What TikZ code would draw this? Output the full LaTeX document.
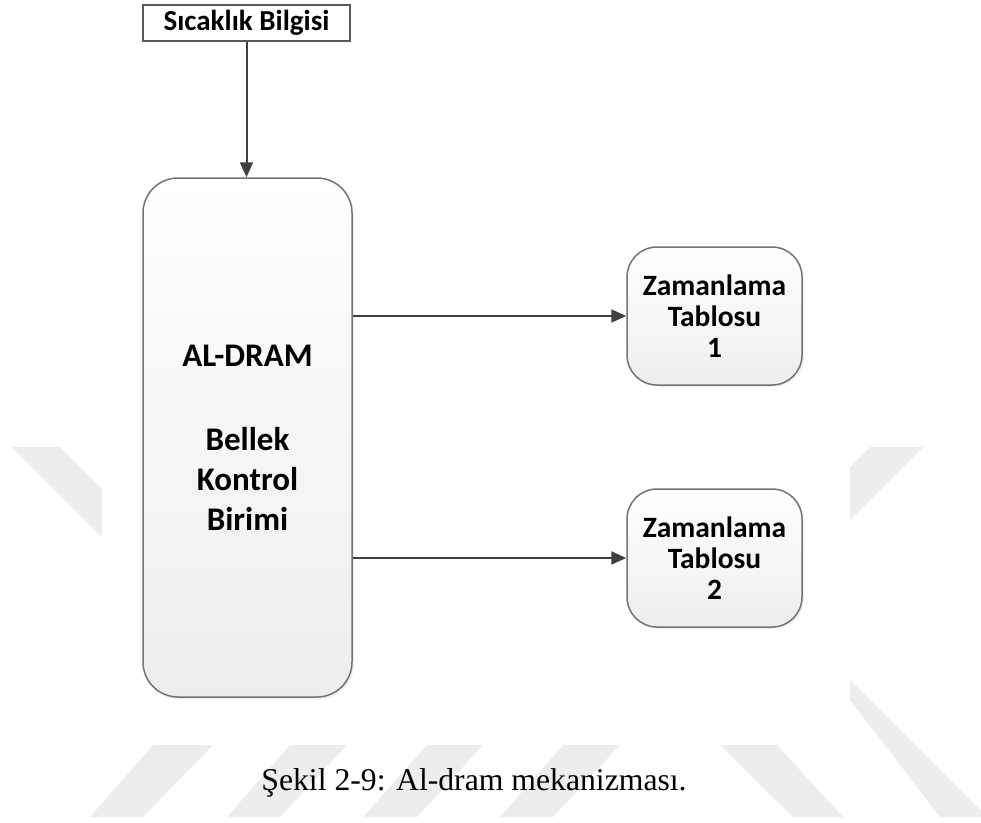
\documentclass[tikz,border=0pt]{standalone}
\usepackage{fontspec}
\setmainfont{Liberation Serif}
\newfontfamily\boxfont{Carlito}
\usetikzlibrary{arrows.meta,shadows}

\begin{document}
\begin{tikzpicture}[x=1pt,y=-1pt,
  band/.style={fill=black!7, draw=none},
  flowbox/.style={draw=black!55, line width=1.5pt, rounded corners=30pt,
    top color=white, bottom color=black!7, align=center, inner sep=0pt,
    font=\boxfont\bfseries\fontsize{29.5}{31}\selectfont,
    drop shadow={opacity=0.12, shadow xshift=2pt, shadow yshift=-2pt}},
  inputbox/.style={draw=black!65, line width=2pt, fill=white, inner sep=0pt,
    font=\boxfont\bfseries\fontsize{29}{31}\selectfont},
  link/.style={draw=black!75, line width=2pt, -{Triangle[length=15pt,width=13pt]}}
]
\useasboundingbox (0,0) rectangle (981,822);

% faint background stripes
\fill[band] (12,447) -- (60,447) -- (210,597) -- (162,597) -- cycle;
\fill[band] (870,447) -- (923,447) -- (773,597) -- (720,597) -- cycle;
\fill[band] (90,817) -- (143,817) -- (213,745) -- (153,745) -- cycle;
\fill[band] (227,817) -- (280,817) -- (347,745) -- (290,745) -- cycle;
\fill[band] (363,817) -- (417,817) -- (483,745) -- (427,745) -- cycle;
\fill[band] (500,817) -- (553,817) -- (620,745) -- (563,745) -- cycle;
\fill[band] (720,745) -- (777,745) -- (843,817) -- (793,817) -- cycle;
\fill[band] (830,680) -- (850,680) -- (981,811) -- (981,817) -- (940,817) -- (850,700) -- cycle;
\fill[white] (102,0) rectangle (850,745);

% blocks
\node[inputbox, minimum width=207pt, minimum height=36pt] (temp) at (246.5,23) {Sıcaklık Bilgisi};
\node[flowbox, rounded corners=35pt, minimum width=209pt, minimum height=519pt,
  font=\boxfont\bfseries\fontsize{33}{40}\selectfont] (ctrl) at (247.5,437.5)
  {AL-DRAM\\[44pt]Bellek\\Kontrol\\Birimi};
\node[flowbox, minimum width=175pt, minimum height=138pt] (t1) at (714.5,316) {Zamanlama\\Tablosu\\1};
\node[flowbox, minimum width=175pt, minimum height=138pt] (t2) at (714.5,558) {Zamanlama\\Tablosu\\2};

% connectors
\draw[link] (temp.south) -- (temp.south |- ctrl.north);
\draw[link] (ctrl.east |- t1.west) -- (t1.west);
\draw[link] (ctrl.east |- t2.west) -- (t2.west);

% caption
\node[anchor=base, inner sep=0pt, font=\fontsize{31.7}{36}\selectfont] (cap) at (474,790)
  {Şekil 2-9: Al-dram mekanizması.};
\end{tikzpicture}
\end{document}
